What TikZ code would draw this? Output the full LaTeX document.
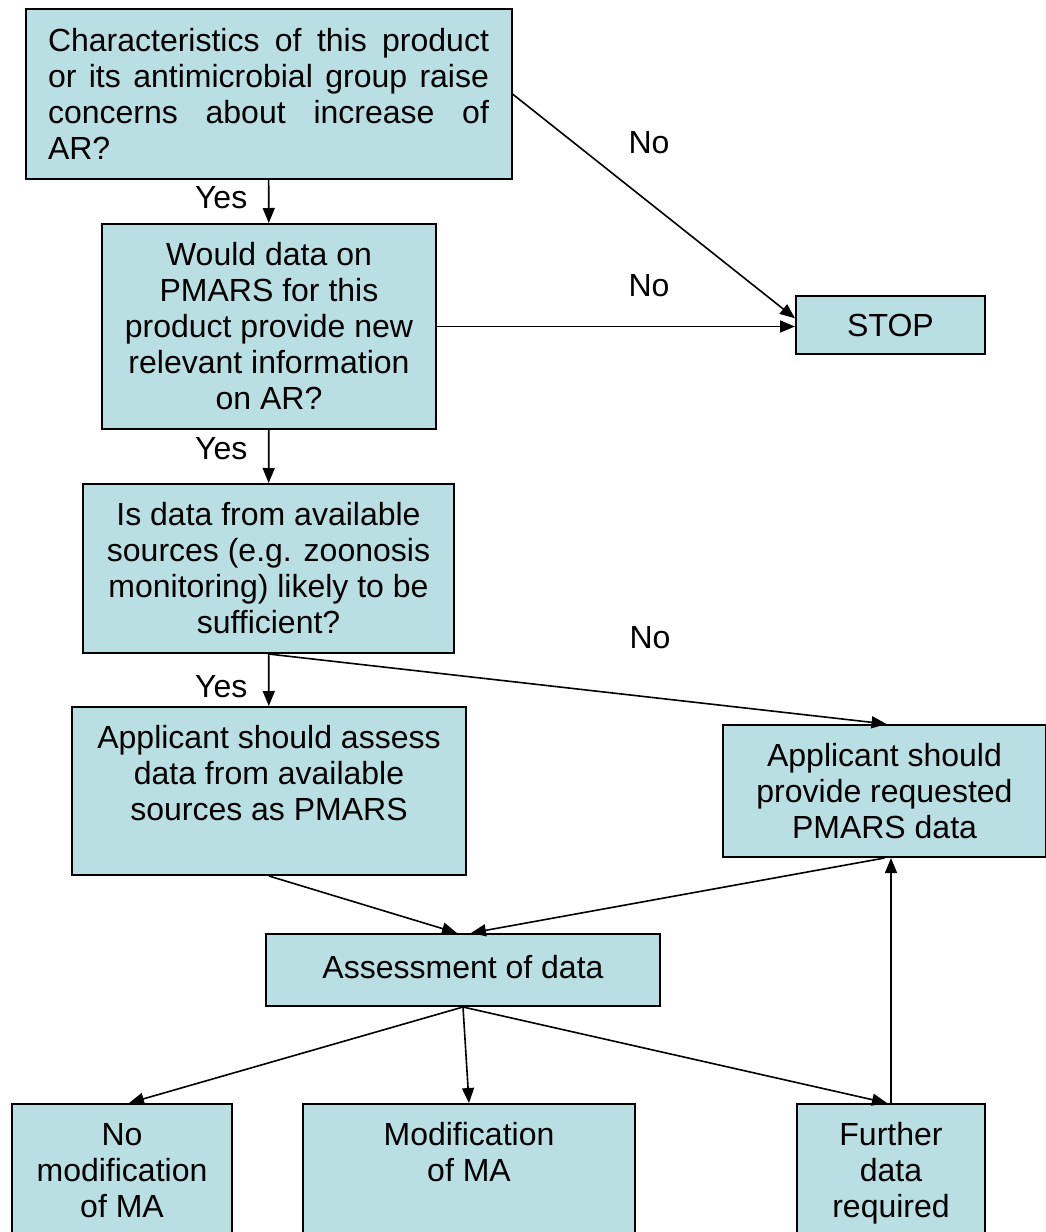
\documentclass[tikz,border=0pt]{standalone}
\usepackage{fontspec}
\setmainfont{Liberation Sans}
\usetikzlibrary{arrows.meta, positioning}
\definecolor{boxfill}{RGB}{185,223,227}

\begin{document}
\begin{tikzpicture}[x=0.5pt,y=-0.5pt,
        box/.style={draw, line width=1pt, fill=boxfill, align=center, inner sep=0pt,
                    font=\fontsize{16}{18}\selectfont},
        lbl/.style={font=\fontsize{16}{18}\selectfont},
        >={Triangle[length=7.5pt,width=6pt]}, line width=0.8pt]
        \useasboundingbox (0,0) rectangle (1045,1232);

        % questions
        \node[box, align=justify, text width=220.5pt, minimum width=243pt, minimum height=85pt]
                (q1)   at (268.5,94)   {Characteristics of this product\linebreak
                                        or its antimicrobial group raise\linebreak
                                        concerns about increase of\linebreak AR?};
        \node[box, minimum width=167pt, minimum height=102.5pt]
                (q2)   at (269,326.5)  {Would data on\\PMARS for this\\product provide new\\relevant information\\on AR?};
        \node[box, minimum width=94.5pt, minimum height=29pt]
                (stop) at (890.5,325)  {STOP};
        \node[box, minimum width=185.5pt, minimum height=84.5pt]
                (q3)   at (268.5,568.5) {Is data from available\\sources (e.g. zoonosis\\monitoring) likely to be\\sufficient?};

        % data
        \node[box, minimum width=197pt, minimum height=84pt]
                (q4)   at (269,791)    {Applicant should assess\\data from available\\sources as PMARS\\\mbox{}};
        \node[box, minimum width=161.5pt, minimum height=66pt]
                (q5)   at (884.5,791)  {Applicant should\\provide requested\\PMARS data};
        \node[box, minimum width=197pt, minimum height=36pt]
                (qa)   at (463,970)    {\raisebox{3pt}{Assessment of data}};

        % outcomes
        \node[box, minimum width=110pt, minimum height=84pt]
                (b1)   at (122,1188)   {No\\modification\\of MA\\\mbox{}};
        \node[box, minimum width=166pt, minimum height=84pt]
                (b2)   at (469,1188)   {Modification\\of MA\\\mbox{}\\\mbox{}};
        \node[box, minimum width=94pt, minimum height=84pt]
                (b3)   at (891,1188)   {Further\\data\\required\\\mbox{}};

        \node[lbl] (no1) at (649,143) {No};
        \node[lbl] (no2) at (649,286) {No};
        \node[lbl] (no3) at (650,638) {No};

        \draw[->] (q1) -- node[lbl, left=7pt, pos=.4] {Yes} (q2);
        \draw[->] (q1.east) -- (stop.176);
        \draw[->] (q2.east) -- (q2.east -| stop.west);
        \draw[->] (q2) -- node[lbl, left=7pt, pos=.35] {Yes} (q3);
        \draw[->] (q3) -- node[lbl, left=7pt, pos=.63] {Yes} (q4);
        \draw[->] (q3.south) -- ([xshift=1pt]q5.north);
        \draw[->] (q4.south) -- ([xshift=-3pt]qa.north);
        \draw[->] (q5.south) -- ([xshift=4pt]qa.north);
        \draw[->] (qa.south) -- ([xshift=3.5pt]b1.north);
        \draw[->] (qa.south) -- (b2.north);
        \draw[->] (qa.south) -- ([xshift=-2pt]b3.north);
        \draw[->] (b3.north) -- (b3.north |- q5.south);
\end{tikzpicture}
\end{document}
